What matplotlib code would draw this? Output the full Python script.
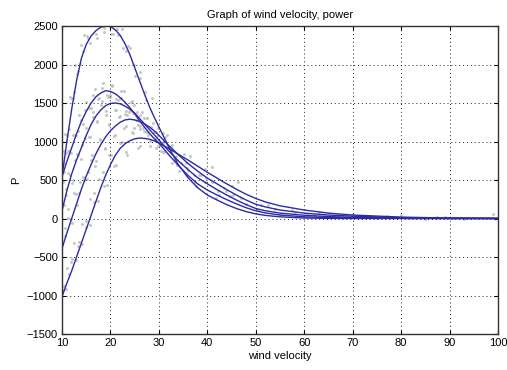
import matplotlib
matplotlib.use('Agg')
import matplotlib.pyplot as plt

plt.rcParams['font.family'] = ['Liberation Sans', 'DejaVu Sans']

velocity = [10, 11, 12, 13, 14, 15, 16, 17, 18, 19, 20, 21, 22, 23, 24, 25, 26, 27, 28, 29, 30,
            32, 34, 36, 38, 40, 42, 44, 46, 48, 50, 52, 55, 60, 65, 70, 80, 90, 100]

# fitted power curves (5 cases)
power1 = [540, 1000, 1420, 1790, 2080, 2260, 2370, 2440, 2485, 2500, 2495, 2450, 2380, 2270, 2130, 1960, 1790, 1620, 1460, 1320, 1190,
          930, 700, 530, 400, 305, 240, 180, 130, 90, 60, 40, 22, 6, 2, 0, 0, 0, 0]
power2 = [540, 740, 920, 1100, 1260, 1390, 1500, 1580, 1630, 1660, 1650, 1620, 1570, 1510, 1440, 1360, 1270, 1190, 1110, 1040, 980,
          830, 690, 560, 450, 370, 305, 245, 190, 140, 100, 72, 45, 22, 12, 6, 2, 0, 0]
power3 = [100, 360, 580, 760, 920, 1080, 1220, 1330, 1410, 1465, 1495, 1500, 1490, 1460, 1420, 1370, 1300, 1230, 1160, 1090, 1020,
          880, 750, 635, 530, 450, 375, 305, 240, 180, 130, 100, 70, 42, 25, 15, 5, 1, 0]
power4 = [-390, -190, 0, 190, 380, 550, 700, 840, 960, 1060, 1140, 1200, 1250, 1280, 1290, 1280, 1260, 1230, 1190, 1140, 1080,
          950, 830, 715, 615, 525, 450, 375, 305, 240, 185, 150, 110, 70, 45, 30, 12, 4, 1]
power5 = [-1015, -840, -680, -500, -320, -140, 40, 220, 400, 560, 700, 820, 910, 970, 1010, 1035, 1045, 1040, 1030, 1010, 980,
          910, 835, 760, 680, 600, 525, 450, 380, 315, 260, 215, 165, 110, 70, 45, 18, 6, 2]
curves = [power1, power2, power3, power4, power5]

# scattered measurements (gray dots)
meas_v = [10.2, 10.5, 11.0, 11.4, 11.8, 12.3, 12.7, 13.2, 13.9, 14.4, 15.1, 15.8, 16.5, 17.2, 17.9, 18.6, 19.3, 20.1, 20.8, 21.6,
          22.4, 23.3, 24.1, 25.0, 26.2, 27.3, 28.5, 29.8, 31.2, 32.7,
          10.3, 10.9, 11.5, 12.2, 12.9, 13.6, 14.3, 15.0, 15.9, 16.8, 17.7, 18.5, 19.4, 20.3, 21.2, 22.1, 23.2, 24.4, 25.6, 26.9,
          28.1, 29.4, 30.8, 32.4, 34.1, 35.9, 37.6, 39.5, 41.8, 44.6,
          10.4, 10.8, 11.3, 12.0, 12.6, 13.4, 14.1, 14.9, 15.7, 16.4, 17.3, 18.2, 19.1, 20.0, 21.0, 22.0, 23.0, 24.2, 25.3, 26.6,
          27.8, 29.0, 30.5, 32.1, 33.8, 35.6, 37.5, 39.8, 42.4, 45.3,
          10.1, 10.7, 11.2, 11.9, 12.5, 13.1, 13.8, 14.6, 15.4, 16.2, 17.0, 17.9, 18.8, 19.7, 20.7, 21.7, 22.7, 23.8, 24.9, 26.1,
          27.4, 28.7, 30.1, 31.6, 33.3, 35.2, 37.3, 39.6, 42.1, 45.0,
          10.3, 10.8, 11.4, 12.1, 12.8, 13.5, 14.2, 15.0, 15.8, 16.6, 17.5, 18.4, 19.3, 20.2, 21.2, 22.3, 23.4, 24.5, 25.7, 26.9,
          28.2, 29.6, 31.1, 32.8, 34.6, 36.5, 38.6, 40.9, 43.5, 46.4,
          48.0, 50.5, 52.5, 55.0, 57.5, 60.5, 63.0, 66.0, 70.0, 75.0, 80.0, 85.0, 89.0, 99.0,
          # second pass of readings
          10.6, 11.1, 11.7, 12.4, 13.0, 13.7, 14.5, 15.3, 16.1, 17.0, 17.8, 18.7, 19.6, 20.5, 21.4, 22.6, 23.7, 24.8, 26.0, 27.1,
          10.5, 11.2, 11.9, 12.6, 13.3, 14.0, 14.8, 15.6, 16.4, 17.4, 18.3, 19.2, 20.4, 21.5, 22.8, 24.0, 25.4, 26.8, 28.3, 29.9,
          10.9, 11.6, 12.3, 13.1, 13.9, 14.7, 15.5, 16.3, 17.2, 18.1, 19.0, 20.0, 21.1, 22.2, 23.5, 24.8, 26.2, 27.6, 29.2, 30.9,
          10.6, 11.3, 12.0, 12.8, 13.6, 14.4, 15.2, 16.0, 16.9, 17.8, 18.8, 19.8, 20.9, 22.0, 23.2, 24.6, 26.0, 27.5, 29.1, 30.8,
          10.5, 11.1, 11.8, 12.5, 13.3, 14.1, 14.9, 15.7, 16.6, 17.6, 18.6, 19.7, 20.8, 22.0, 23.3, 24.7, 26.2, 27.8, 29.4, 31.2,
          33.5, 36.0, 38.2, 41.0, 43.8, 47.0, 51.0, 54.0, 58.0, 62.0, 67.0, 72.0, 77.0, 83.0, 87.5, 93.0]
meas_p = [720, 880, 1090, 1160, 1560, 1560, 1990, 1910, 2250, 2170, 2370, 2280, 2510, 2340, 2560, 2420, 2600, 2400, 2560, 2380,
          2460, 2180, 2220, 1850, 1900, 1540, 1560, 1180, 1010, 720,
          480, 850, 880, 1080, 1080, 1350, 1230, 1510, 1440, 1680, 1560, 1760, 1580, 1720, 1550, 1660, 1390, 1530, 1220, 1310,
          1010, 1120, 860, 910, 620, 660, 420, 470, 260, 290,
          180, 300, 590, 460, 760, 820, 960, 1180, 1060, 1380, 1250, 1520, 1340, 1600, 1410, 1560, 1360, 1510, 1280, 1380,
          1080, 1120, 880, 930, 690, 720, 470, 520, 300, 310,
          -300, -230, 10, -10, 330, 180, 480, 500, 600, 820, 750, 1030, 920, 1230, 1070, 1320, 1180, 1380, 1180, 1350,
          1120, 1240, 960, 1080, 760, 840, 560, 640, 360, 420,
          -930, -920, -720, -530, -540, -310, -330, -30, -80, 330, 230, 610, 440, 830, 700, 1000, 830, 1120, 920, 1130,
          940, 1070, 870, 960, 720, 810, 560, 670, 400, 480,
          190, 110, 180, 60, 110, 40, 90, 20, 60, 10, 40, 0, 20, 60,
          1100, 1080, 1580, 1640, 1880, 2010, 2380, 2350, 2560, 2400, 2560, 2470, 2560, 2400, 2460, 2220, 2240, 2000, 1830, 1640,
          610, 880, 850, 1090, 1140, 1280, 1410, 1440, 1600, 1550, 1700, 1610, 1730, 1540, 1650, 1390, 1380, 1170, 1190, 940,
          380, 570, 500, 840, 770, 1050, 1060, 1320, 1260, 1470, 1400, 1580, 1410, 1560, 1350, 1480, 1200, 1310, 1020, 1000,
          -120, 120, -60, 320, 330, 540, 510, 760, 680, 1020, 900, 1220, 1090, 1330, 1200, 1370, 1160, 1310, 1030, 1110,
          -880, -640, -560, -320, -360, -70, -110, 250, 210, 510, 420, 820, 680, 980, 860, 1110, 940, 1120, 920, 1060,
          810, 630, 560, 470, 360, 260, 170, 120, 90, 50, 40, 20, 30, 10, 15, 0]

fig = plt.figure(figsize=(5.07, 3.70), dpi=100)
ax = fig.add_axes([0.1223, 0.0973, 0.8600, 0.8324])

ax.plot(meas_v, meas_p, '.', color='#c4c4c4', markersize=2.2, zorder=1)
for p in curves:
    ax.plot(velocity, p, '-', color='#2b2ba6', linewidth=1.0, zorder=2)

ax.set_xlim(10, 100)
ax.set_ylim(-1500, 2500)
ax.set_xticks(range(10, 101, 10))
ax.set_yticks(range(-1500, 2501, 500))
ax.grid(True, color='#222222', linestyle=(0, (1, 3)), linewidth=0.7)
ax.tick_params(direction='in', top=True, right=True, labelsize=8, length=3, pad=3)
for s in ax.spines.values():
    s.set_linewidth(1.0)
    s.set_color('#333333')

ax.set_title('Graph of wind velocity, power', fontsize=8, pad=6)
ax.set_xlabel('wind velocity', fontsize=8, labelpad=2)
ax.set_ylabel('P', fontsize=8, labelpad=4)

fig.savefig('out.png', dpi=100)
